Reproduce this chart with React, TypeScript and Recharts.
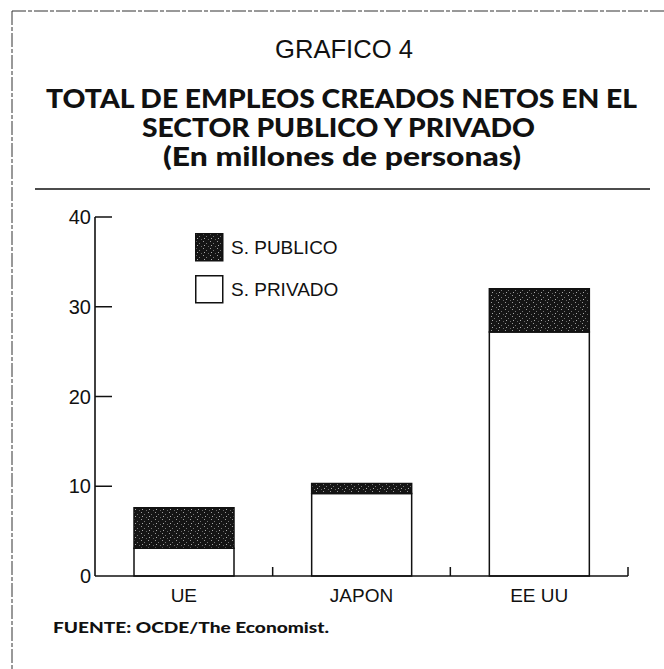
import { BarChart, Bar, XAxis, YAxis, Legend } from "recharts";

const categories = ["UE", "JAPON", "EE UU"];
const privado = [3.1, 9.2, 27.2];
const publico = [4.5, 1.1, 4.8];
const yTicks = [0, 10, 20, 30, 40];

const data = categories.map((name, i) => ({
  name,
  privado: privado[i],
  publico: publico[i],
}));

const INK = "#111";
const SANS = "'Liberation Sans', Arial, sans-serif";
const BOLD = "Lato, 'DejaVu Sans', sans-serif";

function YTick(props: any) {
  const { x, y, payload } = props;
  const axisX = x + 4;
  return (
    <g>
      {payload.value !== 0 && (
        <line x1={axisX} x2={axisX + 17} y1={y} y2={y} stroke={INK} strokeWidth={1.5} />
      )}
      <text x={x} y={y} dy={7} textAnchor="end" fontSize={20} fontFamily={SANS} fill={INK}>
        {payload.value}
      </text>
    </g>
  );
}

function XTick(props: any) {
  const { x, y, payload } = props;
  const edge = x + (payload.offset ?? 89);
  return (
    <g>
      <line x1={edge} x2={edge} y1={y} y2={y - 9} stroke={INK} strokeWidth={1.5} />
      <text x={x} y={y} dy={26} textAnchor="middle" fontSize={19} fontFamily={SANS} fill={INK}>
        {payload.value}
      </text>
    </g>
  );
}

function renderLegend() {
  const rows = [
    { label: "S. PUBLICO", fill: "url(#speckle)" },
    { label: "S. PRIVADO", fill: "#fff" },
  ];
  return (
    <div>
      {rows.map((r, i) => (
        <div key={r.label} style={{ display: "flex", alignItems: "center", height: 28, marginBottom: i === 0 ? 14 : 0 }}>
          <svg width={29} height={29} style={{ display: "block" }}>
            <rect x={0.75} y={0.75} width={27} height={27} fill={r.fill} stroke={INK} strokeWidth={1.5} />
          </svg>
          <span style={{ marginLeft: 7, fontFamily: SANS, fontSize: 19, color: INK, lineHeight: "28px", paddingTop: 2 }}>
            {r.label}
          </span>
        </div>
      ))}
    </div>
  );
}

export default function App() {
  return (
    <div style={{ position: "absolute", left: 0, top: 0, width: 664, height: 669, background: "#fff" }}>
      <BarChart
        width={664}
        height={669}
        data={data}
        margin={{ top: 217, right: 36, bottom: 63, left: 35 }}
      >
        <XAxis
          dataKey="name"
          height={30}
          axisLine={{ stroke: INK, strokeWidth: 1.6 }}
          tickLine={false}
          tickSize={0}
          tickMargin={0}
          tick={<XTick />}
        />
        <YAxis
          width={60}
          domain={[0, 40]}
          ticks={yTicks}
          axisLine={{ stroke: INK, strokeWidth: 1.6 }}
          tickLine={false}
          tickSize={0}
          tickMargin={4}
          tick={<YTick />}
        />
        <Legend
          layout="vertical"
          align="center"
          verticalAlign="middle"
          content={renderLegend}
          wrapperStyle={{ top: 233, left: 195, width: 200 }}
        />
        <Bar dataKey="privado" stackId="a" barSize={100} fill="#fff" stroke={INK} strokeWidth={1.5} isAnimationActive={false} />
        <Bar dataKey="publico" stackId="a" barSize={100} fill="url(#speckle)" stroke={INK} strokeWidth={1.5} isAnimationActive={false} />
      </BarChart>

      <svg
        width={664}
        height={669}
        style={{ position: "absolute", left: 0, top: 0, pointerEvents: "none" }}
      >
        <defs>
          <pattern id="speckle" width={7} height={7} patternUnits="userSpaceOnUse">
            <rect width={7} height={7} fill="#151515" />
            <rect x={1} y={1} width={1} height={1} fill="#9a9a9a" />
            <rect x={4} y={3} width={1} height={1} fill="#777" />
            <rect x={2} y={5} width={1} height={1} fill="#aaa" />
            <rect x={6} y={6} width={1} height={1} fill="#666" />
          </pattern>
        </defs>
        <line x1={12} x2={664} y1={11} y2={11} stroke="#333" strokeWidth={1} strokeDasharray="14 2 4 2" />
        <line x1={12} x2={12} y1={11} y2={669} stroke="#333" strokeWidth={1} strokeDasharray="14 2 4 2" />
        <text x={344} y={58} textAnchor="middle" fontSize={26} fontFamily={SANS} fill={INK} textLength={138} lengthAdjust="spacingAndGlyphs">
          GRAFICO 4
        </text>
        <text x={341.5} y={108} textAnchor="middle" fontSize={26} fontWeight={900} fontFamily={BOLD} fill={INK} textLength={591} lengthAdjust="spacingAndGlyphs">
          TOTAL DE EMPLEOS CREADOS NETOS EN EL
        </text>
        <text x={338.5} y={137} textAnchor="middle" fontSize={26} fontWeight={900} fontFamily={BOLD} fill={INK} textLength={393} lengthAdjust="spacingAndGlyphs">
          SECTOR PUBLICO Y PRIVADO
        </text>
        <text x={342} y={166} textAnchor="middle" fontSize={26} fontWeight={900} fontFamily={BOLD} fill={INK} textLength={358} lengthAdjust="spacingAndGlyphs">
          (En millones de personas)
        </text>
        <line x1={35} x2={650} y1={189} y2={189} stroke={INK} strokeWidth={1.6} />
        <text x={53} y={633} fontSize={15} fontWeight={900} fontFamily={BOLD} fill={INK} textLength={276} lengthAdjust="spacingAndGlyphs">
          FUENTE: OCDE/The Economist.
        </text>
      </svg>
    </div>
  );
}
